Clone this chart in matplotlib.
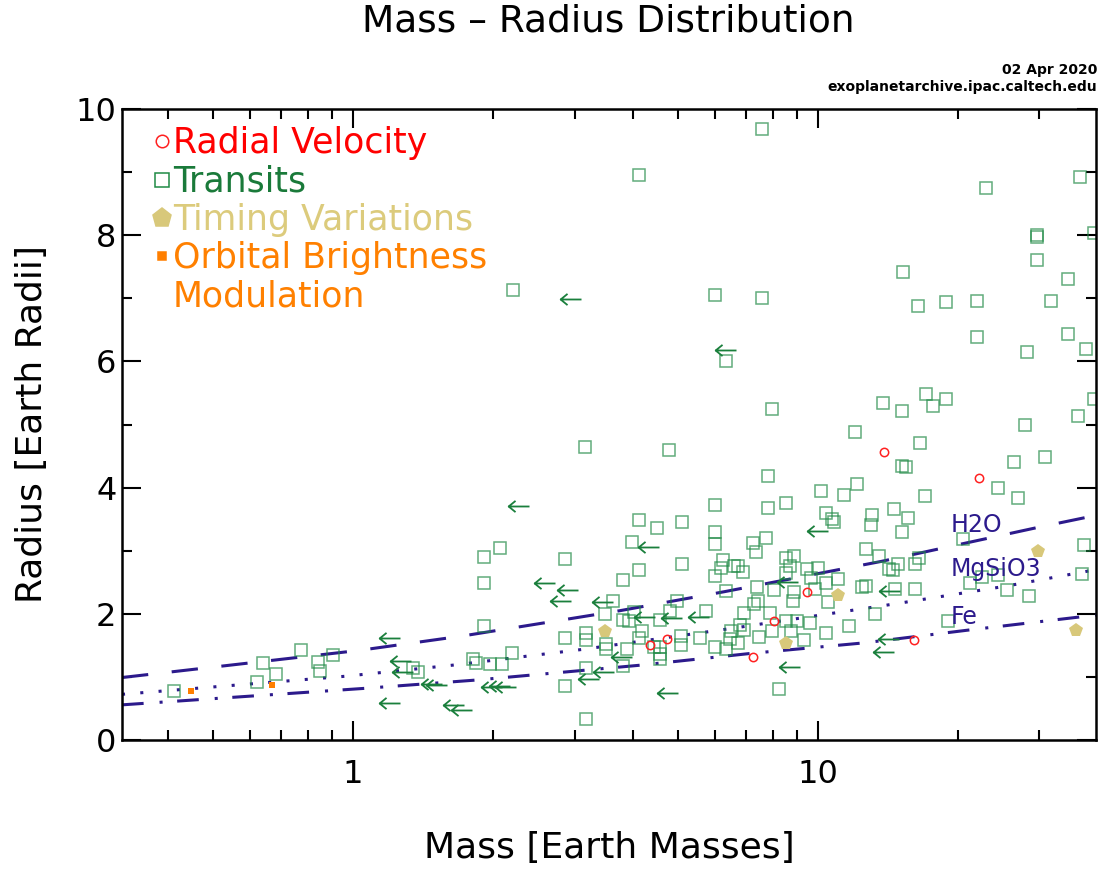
import matplotlib
matplotlib.use("Agg")
import matplotlib.pyplot as plt
from matplotlib.path import Path

plt.rcParams['font.family'] = ['DejaVu Sans']
plt.rcParams['lines.scale_dashes'] = False

# --- data (mass in Earth masses, radius in Earth radii) ---
transit_mass = [0.412, 0.641, 0.682, 0.622, 0.772, 0.842, 0.850, 0.903, 1.342, 1.382,
                3.162, 4.78, 7.83, 7.83, 6.00, 4.12, 4.50, 5.09, 6.00, 6.00,
                3.99, 7.27, 7.37, 7.73, 2.07, 1.908, 2.856, 4.12, 5.11, 6.24,
                6.18, 6.00, 6.59, 6.75, 6.90, 3.81, 1.908, 6.33, 7.39, 3.63,
                4.97, 7.29, 7.45, 4.03, 3.49, 4.81, 5.74, 6.95, 3.81, 3.92,
                4.58, 1.908, 3.17, 4.18, 6.80, 6.94, 6.50, 2.856, 3.17, 4.12,
                5.07, 5.07, 5.58, 7.48, 6.46, 6.73, 6.00, 6.33, 3.50, 3.50,
                3.88, 4.58, 4.58, 4.58, 4.43, 2.20, 1.81, 1.84, 1.97, 2.09,
                3.17, 3.81, 2.856, 3.17, 17.11, 18.92, 17.74, 13.84, 15.19, 7.96,
                12.04, 16.56, 15.19, 15.52, 12.12, 10.14, 11.40, 16.98, 8.56, 14.62,
                15.63, 10.44, 10.75, 10.83, 13.06, 13.01, 15.16, 12.71, 13.57, 16.54,
                16.16, 14.87, 14.26, 14.55, 8.56, 8.88, 8.70, 8.56, 9.46, 10.0,
                9.68, 11.06, 10.43, 12.48, 12.69, 14.69, 16.16, 8.06, 8.88, 9.87,
                8.86, 10.53, 7.90, 13.30, 9.64, 8.56, 9.03, 8.76, 7.96, 10.44,
                11.70, 9.36, 8.24, 20.53, 21.26, 22.53, 24.48, 25.57, 28.53, 19.07,
                27.93, 36.25, 39.4, 26.38, 30.85, 24.40, 26.96, 37.48, 37.11, 7.59,
                4.12, 36.7, 22.99, 29.6, 29.6, 39.4, 29.7, 15.29, 34.64, 6.01,
                7.59, 16.40, 18.87, 22.03, 31.75, 22.03, 34.64, 28.27, 37.73, 6.33,
                2.21]
transit_radius = [0.77, 1.22, 1.05, 0.92, 1.43, 1.24, 1.09, 1.34, 1.14, 1.07,
                  4.65, 4.60, 4.19, 3.68, 3.73, 3.49, 3.36, 3.45, 3.30, 3.10,
                  3.14, 3.12, 2.98, 3.20, 3.05, 2.90, 2.87, 2.69, 2.79, 2.85,
                  2.72, 2.60, 2.76, 2.75, 2.67, 2.54, 2.49, 2.36, 2.43, 2.20,
                  2.21, 2.16, 2.20, 2.03, 1.99, 2.05, 2.05, 2.01, 1.90, 1.89,
                  1.90, 1.80, 1.69, 1.72, 1.82, 1.74, 1.73, 1.61, 1.58, 1.62,
                  1.65, 1.51, 1.62, 1.64, 1.60, 1.54, 1.48, 1.44, 1.52, 1.45,
                  1.44, 1.48, 1.37, 1.29, 1.47, 1.38, 1.29, 1.22, 1.20, 1.20,
                  1.14, 1.18, 0.86, 0.34, 5.48, 5.40, 5.30, 5.34, 5.22, 5.24,
                  4.88, 4.71, 4.35, 4.32, 4.06, 3.94, 3.89, 3.86, 3.76, 3.66,
                  3.52, 3.59, 3.51, 3.46, 3.56, 3.41, 3.30, 3.03, 2.92, 2.89,
                  2.79, 2.79, 2.71, 2.70, 2.89, 2.92, 2.75, 2.65, 2.71, 2.73,
                  2.57, 2.55, 2.49, 2.42, 2.44, 2.39, 2.39, 2.37, 2.35, 2.40,
                  2.21, 2.19, 2.02, 1.99, 1.85, 1.89, 1.89, 1.73, 1.73, 1.69,
                  1.80, 1.58, 0.81, 3.18, 2.49, 2.59, 2.61, 2.38, 2.28, 1.89,
                  5.00, 5.14, 5.40, 4.41, 4.48, 4.00, 3.83, 3.09, 2.63, 9.68,
                  8.96, 8.93, 8.75, 8.00, 7.97, 8.03, 7.61, 7.42, 7.31, 7.06,
                  7.00, 6.88, 6.94, 6.96, 6.96, 6.39, 6.44, 6.15, 6.19, 6.01,
                  7.13]

# transits with only a mass upper limit (drawn as left arrows)
limit_mass = [1.262, 1.333, 1.346, 1.554, 1.593, 1.262, 1.734, 1.804, 2.39, 4.56,
              2.72, 3.05, 2.95, 3.63, 4.47, 5.11, 5.84, 3.99, 3.65, 3.38,
              2.09, 2.18, 2.24, 5.01, 10.53, 9.07, 15.05, 14.97, 14.60, 9.17,
              3.10, 6.67]
limit_radius = [1.62, 1.25, 1.08, 0.89, 0.87, 0.59, 0.55, 0.48, 3.71, 3.06,
                2.49, 2.38, 2.20, 2.19, 1.95, 1.93, 1.95, 1.32, 1.08, 0.97,
                0.84, 0.86, 0.84, 0.74, 3.31, 2.50, 2.36, 1.60, 1.39, 1.16,
                6.99, 6.18]

rv_mass = [4.35, 4.73, 7.27, 13.86, 22.20, 9.49, 8.03, 16.13]
rv_radius = [1.51, 1.60, 1.32, 4.56, 4.16, 2.34, 1.89, 1.59]

ttv_mass = [3.48, 11.06, 8.54, 29.85, 35.89]
ttv_radius = [1.72, 2.30, 1.54, 3.00, 1.74]

obm_mass = [0.447, 0.669]
obm_radius = [0.77, 0.87]

# composition curves
h2o_mass = [0.318, 1.03, 1.725, 3.755, 6.29, 13.69, 29.8, 39.7]
h2o_radius = [0.99, 1.42, 1.65, 2.05, 2.35, 2.83, 3.37, 3.56]
mgsio3_mass = [0.318, 0.961, 1.657, 3.125, 6.48, 14.74, 25.5, 39.7]
mgsio3_radius = [0.724, 1.01, 1.19, 1.437, 1.765, 2.16, 2.44, 2.70]
fe_mass = [0.318, 1.066, 1.847, 4.17, 7.21, 12.6, 21.8, 39.7]
fe_radius = [0.557, 0.82, 0.951, 1.187, 1.374, 1.54, 1.755, 1.98]
curve_labels = ['H2O', 'MgSiO3', 'Fe']

W, H = 1108, 873
fig = plt.figure(figsize=(W / 100, H / 100), dpi=100)
ax = fig.add_axes([122 / W, 1 - 740 / H, (1096 - 122) / W, (740 - 109) / H])

navy = '#2c1a8c'
green = '#1f8a45'
ax.plot(h2o_mass, h2o_radius, color=navy, lw=2.2, dashes=(19, 17))
ax.plot(mgsio3_mass, mgsio3_radius, color=navy, lw=2.2, dashes=(2.2, 11))
ax.plot(fe_mass, fe_radius, color=navy, lw=2.2, dashes=(15.6, 11.5, 2.2, 10.5))

ax.plot(transit_mass, transit_radius, ls='none', marker='s', ms=8, mfc='none',
        mec=green, mew=1.1, alpha=0.7)

arrow = Path([(0, 0), (-1, 0), (-0.67, 0.27), (-1, 0), (-0.67, -0.27)],
             [Path.MOVETO, Path.LINETO, Path.MOVETO, Path.LINETO, Path.LINETO])
ax.plot(limit_mass, limit_radius, ls='none', marker=arrow, ms=30, mfc='none',
        mec='#1a7f3c', mew=1.3)

ax.plot(rv_mass, rv_radius, ls='none', marker='o', ms=6, mfc='none', mec='#ff2020', mew=1.1)
ax.plot(ttv_mass, ttv_radius, ls='none', marker='p', ms=10, color='#d8c87a', mew=0)
ax.plot(obm_mass, obm_radius, ls='none', marker='s', ms=5, color='#ff7f00', mew=0)

ax.set_xscale('log')
ax.set_xlim(0.318, 39.7)
ax.set_ylim(0, 10)
ax.set_xticks([1, 10])
ax.set_xticklabels(['1', '10'])
ax.set_yticks([0, 2, 4, 6, 8, 10])
ax.set_yticks([1, 3, 5, 7, 9], minor=True)
ax.tick_params(which='both', direction='in', top=True, right=True, width=1.5, labelsize=23)
ax.tick_params(which='major', length=14)
ax.tick_params(which='minor', length=7)
ax.tick_params(axis='x', pad=14)
ax.tick_params(axis='y', pad=4)
ax.xaxis.set_minor_formatter(plt.NullFormatter())
for s in ax.spines.values():
    s.set_linewidth(1.8)

fig.text(608 / W, 1 - 22 / H, 'Mass \u2013 Radius Distribution', ha='center', va='center', fontsize=27)
fig.text(1097 / W, 1 - 74 / H, '02 Apr 2020', ha='right', va='baseline', fontsize=10, weight='bold')
fig.text(1097 / W, 1 - 91 / H, 'exoplanetarchive.ipac.caltech.edu', ha='right', va='baseline',
         fontsize=10, weight='bold')
fig.text(609 / W, 1 - 848 / H, 'Mass [Earth Masses]', ha='center', va='center', fontsize=26)
fig.text(32 / W, 1 - 424 / H, 'Radius [Earth Radii]', ha='center', va='center', fontsize=26,
         rotation=90)

# curve labels
for lbl, y in zip(curve_labels, [525, 569, 617]):
    fig.text(951 / W, 1 - y / H, lbl, ha='left', va='center', fontsize=17, color=navy)

# legend, drawn by hand
legend = [('Radial Velocity', '#ff0000', 153, 'o', 9, 'none', '#ff2020'),
          ('Transits', '#1a7a3a', 192, 's', 10, 'none', green),
          ('Timing Variations', '#dccb7c', 230, 'p', 14, '#d8c87a', '#d8c87a'),
          ('Orbital Brightness\nModulation', '#ff8000', 268, 's', 6, '#ff7f00', '#ff7f00')]
for text, col, base, mk, ms, fc, ec in legend:
    lines = text.split('\n')
    for i, line in enumerate(lines):
        fig.text(173 / W, 1 - (base + 38.5 * i) / H, line, color=col, fontsize=25, va='baseline')
    ax.plot([162 / W], [1 - (base - 12) / H], transform=fig.transFigure, clip_on=False,
            marker=mk, ms=ms, mfc=fc, mec=ec, mew=1.1, ls='none')

fig.savefig('out.png', dpi=100)
